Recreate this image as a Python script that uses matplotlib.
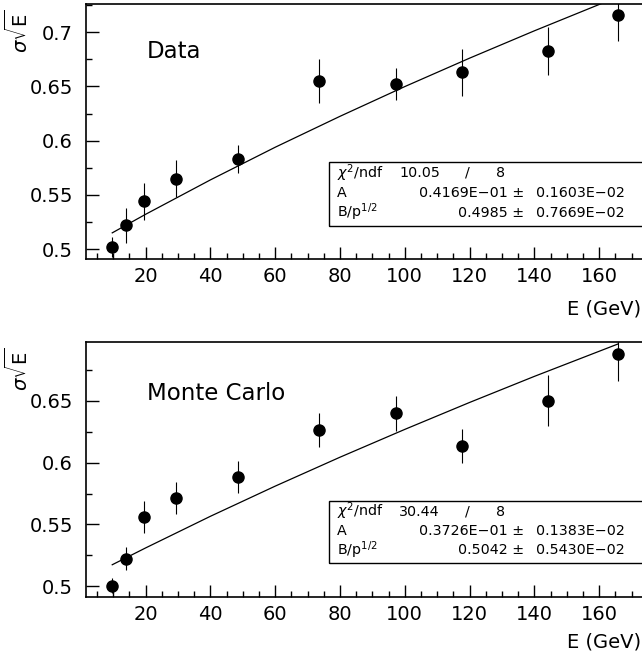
#plot.py

import matplotlib
matplotlib.use("Agg")
import matplotlib.pyplot as plt
from matplotlib.patches import Rectangle
from matplotlib.ticker import MultipleLocator

# beam energies (GeV), same for both samples
energy = [9.7, 14.1, 19.4, 29.3, 48.5, 73.6, 97.2, 117.5, 144.1, 165.8]

data_res = [0.502, 0.522, 0.544, 0.565, 0.583, 0.655, 0.652, 0.663, 0.683, 0.716]
data_err = [0.009, 0.016, 0.0166, 0.017, 0.013, 0.020, 0.0147, 0.0217, 0.022, 0.0245]

mc_res = [0.5006, 0.5224, 0.5557, 0.5713, 0.5884, 0.6261, 0.640, 0.6135, 0.650, 0.6877]
mc_err = [0.006, 0.009, 0.013, 0.013, 0.013, 0.0138, 0.0143, 0.0138, 0.0207, 0.0214]

# fitted curves
fit_e = [9.7, 20, 40, 60, 80, 100, 120, 140, 165.8]
data_fit = [0.5151, 0.5322, 0.5639, 0.5940, 0.6225, 0.6499, 0.6761, 0.7013, 0.7326]
mc_fit = [0.5174, 0.5310, 0.5566, 0.5810, 0.6044, 0.6269, 0.6487, 0.6698, 0.6960]

data_stats = ["10.05", "8", "0.4169E\u221201", "0.1603E\u221202", "0.4985", "0.7669E\u221202"]
mc_stats = ["30.44", "8", "0.3726E\u221201", "0.1383E\u221202", "0.5042", "0.5430E\u221202"]

W, H = 642, 658
fig = plt.figure(figsize=(W / 100, H / 100), dpi=100)


def fx(x):
    return x / W


def fy(y):
    return 1 - y / H


def panel(top, bottom, ylim, label, label_y, xlab_y, res, err, fit, stats, box):
    left, right = 86, 664
    ax = fig.add_axes([fx(left), fy(bottom), fx(right - left), (bottom - top) / H])
    ax.set_xlim(1.6, 180)
    ax.set_ylim(*ylim)
    ax.errorbar(energy, res, yerr=err, fmt="o", color="black", ms=8,
                elinewidth=0.8, capsize=0)
    ax.plot(fit_e, fit, color="black", lw=0.9)
    ax.set_xticks([20, 40, 60, 80, 100, 120, 140, 160])
    ax.xaxis.set_minor_locator(MultipleLocator(5))
    ax.yaxis.set_major_locator(MultipleLocator(0.05))
    ax.yaxis.set_minor_locator(MultipleLocator(0.025))
    ax.tick_params(which="both", direction="in", top=False, right=False,
                   labelsize=14, width=1)
    ax.tick_params(axis="x", which="major", length=8.5, pad=5.5)
    ax.tick_params(axis="y", which="major", length=9, pad=9.5)
    ax.tick_params(which="minor", length=4.3)
    ax.xaxis.set_major_formatter(plt.FuncFormatter(lambda v, p: "%g" % v))
    ax.yaxis.set_major_formatter(plt.FuncFormatter(lambda v, p: "%g" % v))
    for s in ax.spines.values():
        s.set_linewidth(1.2)
    fig.text(fx(147), fy(label_y), label, fontsize=16.5, va="center", ha="left")
    fig.text(fx(18), fy(top + 6), r"$\sigma\sqrt{\mathrm{E}}$", fontsize=14,
             rotation=90, va="top", ha="center")
    fig.text(fx(641), fy(xlab_y), "E (GeV)", fontsize=14,
             ha="right", va="center")

    # stat box
    btop, bbot = box
    fig.patches.append(Rectangle((fx(329), fy(bbot)), fx(330), (bbot - btop) / H,
                                 transform=fig.transFigure, fill=False,
                                 lw=1, ec="black"))
    h = bbot - btop
    r1, r2, r3 = btop + h * 0.17, btop + h * 0.48, btop + h * 0.79
    fs = 10.3
    fig.text(fx(337), fy(r1), r"$\chi^2$/ndf", fontsize=fs, va="center")
    fig.text(fx(399), fy(r1), stats[0], fontsize=fs, va="center")
    fig.text(fx(465), fy(r1), "/", fontsize=fs, va="center")
    fig.text(fx(496), fy(r1), stats[1], fontsize=fs, va="center")
    fig.text(fx(337), fy(r2), "A", fontsize=fs, va="center")
    fig.text(fx(524), fy(r2), stats[2] + " \u00b1", fontsize=fs, va="center", ha="right")
    fig.text(fx(536), fy(r2), stats[3], fontsize=fs, va="center")
    fig.text(fx(337), fy(r3), r"B/p$^{1/2}$", fontsize=fs, va="center")
    fig.text(fx(524), fy(r3), stats[4] + " \u00b1", fontsize=fs, va="center", ha="right")
    fig.text(fx(536), fy(r3), stats[5], fontsize=fs, va="center")
    return ax


panel(4, 259, (0.491, 0.726), "Data", 52, 309, data_res, data_err, data_fit,
      data_stats, (162, 226))
panel(342, 597, (0.4913, 0.6976), "Monte Carlo", 393, 642, mc_res, mc_err, mc_fit,
      mc_stats, (501, 563))

fig.savefig("out.png", dpi=100)
